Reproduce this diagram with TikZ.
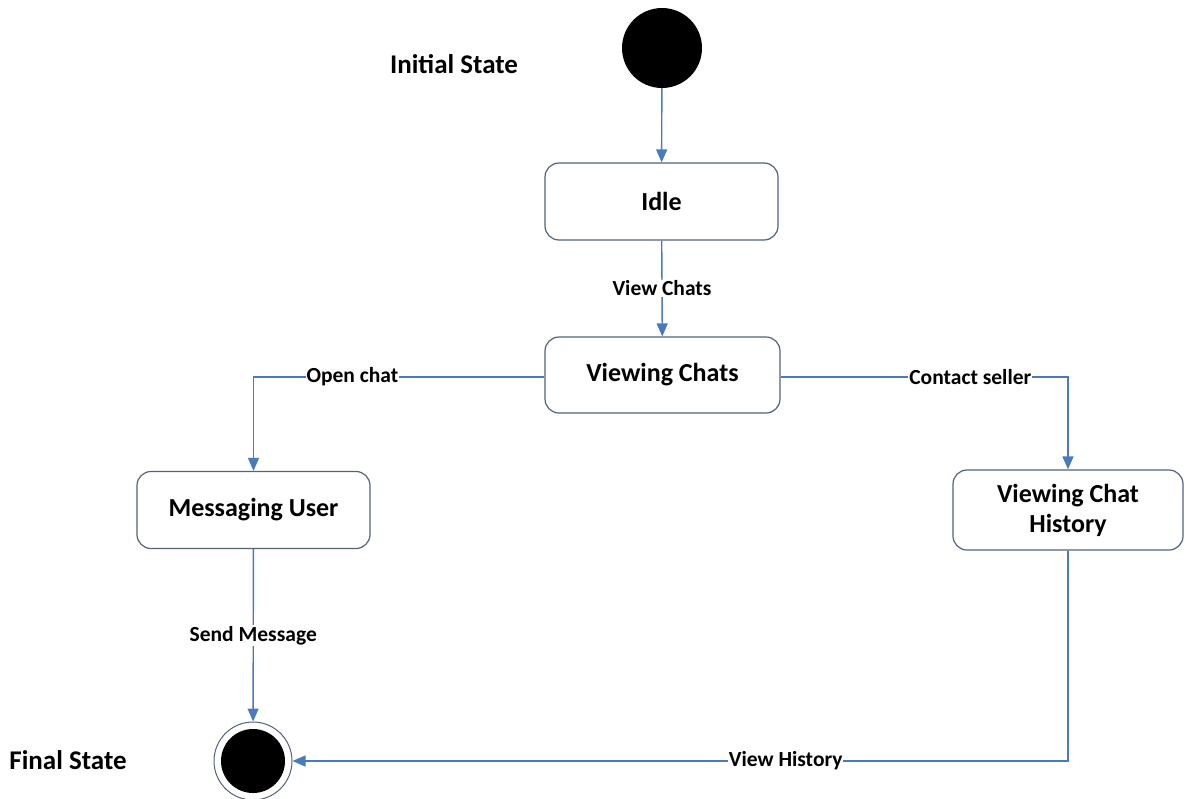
\documentclass[tikz,border=0pt]{standalone}
\usepackage{fontspec}
\setmainfont{Carlito}
\usetikzlibrary{arrows.meta,positioning}
\definecolor{flow}{RGB}{74,122,190}
\definecolor{frame}{RGB}{84,98,122}
\tikzset{
  statebox/.style={draw=frame, line width=1.2pt, rounded corners=14pt, fill=white,
    minimum width=233pt, minimum height=77pt, align=center,
    font=\fontsize{26}{30}\selectfont\bfseries},
  flowline/.style={draw=flow, line width=1.4pt, -{Triangle[length=13pt,width=11pt]}},
  trans/.style={fill=white, inner sep=1pt, font=\fontsize{21.5}{24}\selectfont\bfseries},
  caption/.style={font=\fontsize{27}{30}\selectfont\bfseries}
}
\begin{document}
\begin{tikzpicture}[x=1pt,y=-1pt]
\useasboundingbox (0,0) rectangle (1185,798);

% initial and final pseudo-states
\node[circle, fill=black, minimum size=80pt, inner sep=0pt] (init) at (662,48) {};
\node[circle, draw=frame, line width=1pt, fill=white, minimum size=78pt, inner sep=0pt] (final) at (253,761) {};
\node[circle, fill=black, minimum size=64pt, inner sep=0pt] (finaldot) at (final.center) {};

\node[caption] (initcap) at (454,64) {Initial State};
\node[caption] (finalcap) at (68,760) {Final State};

% states
\node[statebox] (idle) at (661.5,201.5) {Idle};
\node[statebox, minimum width=235pt, minimum height=76pt] (chats) at (662.5,375) {Viewing Chats};
\node[statebox] (msg) at (253.5,510) {Messaging User};
\node[statebox, minimum width=230pt, minimum height=80pt] (hist) at (1068,510) {Viewing Chat\\History};

% transitions
\draw[flowline] (init) -- (idle);
\draw[flowline] (idle) -- node[trans] {View Chats} (chats);
\draw[flowline] (chats.west |- 0,377) -| node[trans, pos=0.33] {Open chat} (msg.north);
\draw[flowline] (chats.east |- 0,377) -| node[trans, pos=0.33] {Contact seller} (hist.north);
\draw[flowline] (msg) -- node[trans, pos=0.5] {Send Message} (final);
\draw[flowline] (hist.south) |- node[trans, pos=0.682] {View History} (final.east);
\end{tikzpicture}
\end{document}
